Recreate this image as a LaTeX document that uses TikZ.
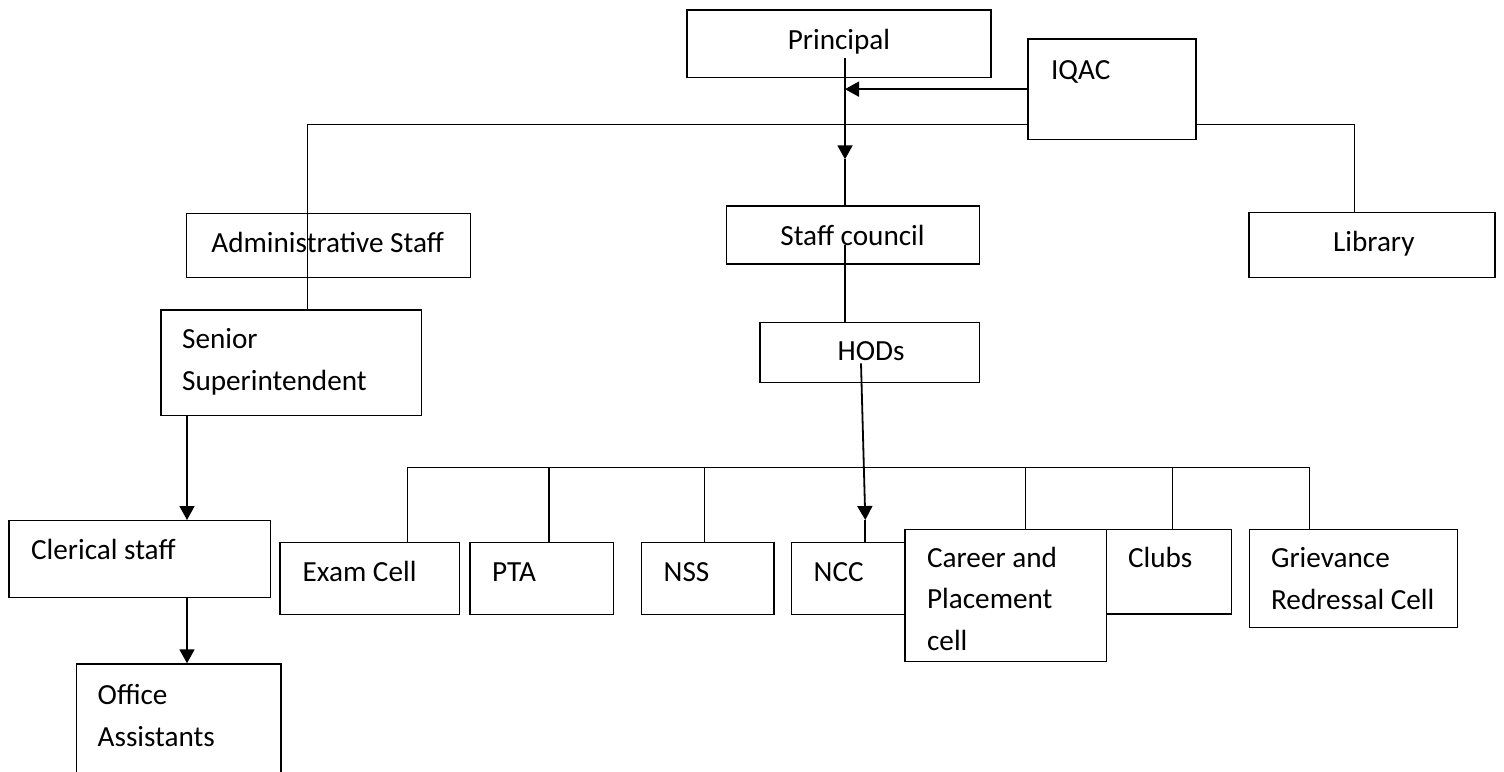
\documentclass[tikz,border=0pt]{standalone}
\usepackage{fontspec}
\setmainfont{Carlito}
\usetikzlibrary{arrows.meta,fit}
\tikzstyle{unit} = [draw, rectangle, inner sep=0pt, line width=0.7pt]
\tikzstyle{lbl} = [inner sep=0pt, anchor=base west, font=\fontsize{14.6}{17}\selectfont]
\tikzstyle{link} = [line width=0.75pt]
\tikzstyle{flow} = [line width=0.9pt, -{Triangle[length=7pt,width=7.5pt]}]

\begin{document}
\begin{tikzpicture}[x=0.5pt,y=-0.5pt]
  \useasboundingbox (0,0) rectangle (1504,771);
  % top level
  \node[unit, fit={(687,10) (991,77.3)}] (principal) {};
  \node[unit, fit={(1028,39) (1196,139.3)}] (iqac) {};
  \node[unit, fit={(186.7,213.3) (470.7,277.3)}] (admin) {};
  \node[unit, fit={(726.7,206) (979.3,264)}] (council) {};
  \node[unit, fit={(1249,212.7) (1495,277.7)}] (library) {};
  % office side
  \node[unit, fit={(161,310) (421.7,415.7)}] (senior) {};
  \node[unit, fit={(9,520.7) (270.7,597.3)}] (clerical) {};
  \node[unit, fit={(76.7,664) (281,800)}] (office) {};
  % academic side
  \node[unit, fit={(760,322.3) (979.3,382.7)}] (hods) {};
  \node[unit, fit={(280,542.7) (459.3,614.3)}] (exam) {};
  \node[unit, fit={(470,542.7) (613.3,614.3)}] (pta) {};
  \node[unit, fit={(641.7,542.7) (774,614.3)}] (nss) {};
  \node[unit, fit={(791.7,542.7) (920,614.3)}] (ncc) {};
  \node[unit, fill=white, fit={(905,529.3) (1106.7,661.7)}] (career) {};
  \node[unit, fit={(1106.7,529.3) (1231.7,614)}] (clubs) {};
  \node[unit, fit={(1249.3,529.3) (1457.3,627.7)}] (grievance) {};

  % texts
  \node[lbl, anchor=base] (principal-t) at (839,49.4) {Principal};
  \node[lbl] (iqac-t) at (1050.7,79) {IQAC};
  \node[lbl] (admin-t) at (211,252.3) {Administrative Staff};
  \node[lbl] (council-t) at (780,245) {Staff council};
  \node[lbl] (library-t) at (1332.7,251.7) {Library};
  \node[lbl] (senior-1) at (181.7,348) {Senior};
  \node[lbl] (senior-2) at (181.7,390.7) {Superintendent};
  \node[lbl] (clerical-t) at (30.7,559.3) {Clerical staff};
  \node[lbl] (office-1) at (97.3,704) {Office};
  \node[lbl] (office-2) at (97.3,746.7) {Assistants};
  \node[lbl] (hods-t) at (837.3,360) {HODs};
  \node[lbl] (exam-t) at (302.3,581.7) {Exam Cell};
  \node[lbl] (pta-t) at (491.7,581.7) {PTA};
  \node[lbl] (nss-t) at (663.3,581.7) {NSS};
  \node[lbl] (ncc-t) at (813.3,581.7) {NCC};
  \node[lbl] (career-1) at (926.7,567.7) {Career and};
  \node[lbl] (career-2) at (926.7,608.3) {Placement};
  \node[lbl] (career-3) at (926.7,650.7) {cell};
  \node[lbl] (clubs-t) at (1127.7,567.7) {Clubs};
  \node[lbl] (grievance-1) at (1270.7,567.7) {Grievance};
  \node[lbl] (grievance-2) at (1270.7,609.3) {Redressal Cell};

  % junction points
  \coordinate (p-in) at (845,58);
  \coordinate (p-tip) at (845,159.3);
  \coordinate (bus-l) at (307.3,124.3);
  \coordinate (bus-r) at (1354.3,124.3);
  \coordinate (s-c) at (187,415.7);
  \coordinate (c-in) at (845,245);
  \coordinate (h-in) at (861,363.3);
  \coordinate (h-tip) at (865.3,520);
  \coordinate (bus2-l) at (407.3,467.3);
  \coordinate (bus2-r) at (1309.3,467.3);
  \coordinate (d-pta) at (549,467.3);
  \coordinate (d-nss) at (704.3,467.3);
  \coordinate (d-career) at (1025.5,467.3);
  \coordinate (d-clubs) at (1172.3,467.3);

  % connectors
  \draw[flow] (p-in) -- (p-tip);
  \draw[link, line width=0.9pt] (p-tip) -- (p-tip |- council.north);
  \draw[flow] (iqac.west) -- (p-in |- iqac.west);
  \draw[link] (bus-l -| iqac.west) -- (bus-l) -- (bus-l |- senior.north);
  \draw[link] (bus-l -| iqac.east) -- (bus-r) -- (bus-r |- library.north);
  \draw[flow] (s-c) -- (s-c |- clerical.north);
  \draw[flow] (s-c |- clerical.south) -- (s-c |- office.north);
  \draw[link, line width=0.9pt] (c-in) -- (c-in |- hods.north);
  \draw[flow] (h-in) -- (h-tip);
  \draw[link, line width=0.9pt] (h-tip) -- (h-tip |- ncc.north);
  \draw[link] (bus2-l |- exam.north) -- (bus2-l) -- (bus2-r) -- (bus2-r |- grievance.north);
  \draw[link] (d-pta) -- (d-pta |- pta.north);
  \draw[link] (d-nss) -- (d-nss |- nss.north);
  \draw[link] (d-career) -- (d-career |- career.north);
  \draw[link] (d-clubs) -- (d-clubs |- clubs.north);
\end{tikzpicture}
\end{document}
